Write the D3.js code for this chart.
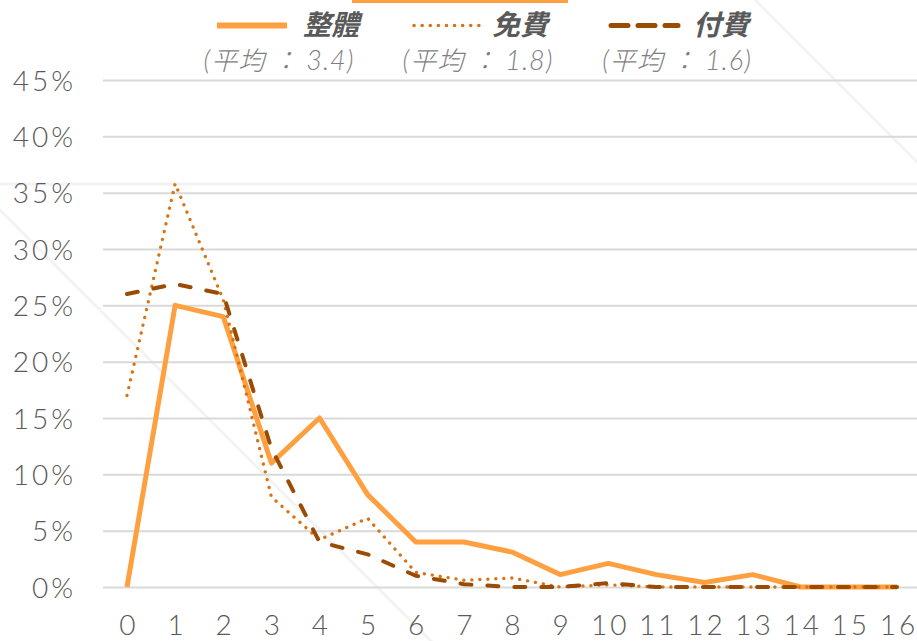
<!DOCTYPE html>
<meta charset="utf-8">
<style>
body { margin: 0; background: #fff; }
svg { display: block; font-family: Lato, "Noto Sans CJK TC", sans-serif; }
.grid line { stroke: #d9d9d9; stroke-width: 2px; }
.grid .domain { display: none; }
.axis text { fill: #595959; font-family: Lato, sans-serif; font-size: 28px; font-weight: 300; letter-spacing: 3px; }
.axis .domain { display: none; }
.line { fill: none; stroke-linejoin: round; }
.leg-name { fill: #595959; font-size: 28px; font-weight: bold; font-style: italic; font-family: "Noto Sans CJK TC", sans-serif; }
.leg-avg { fill: #7f7f7f; font-size: 27px; font-style: italic; font-weight: 300; letter-spacing: 1px; }
.leg-avg .cjk { font-family: "Noto Sans CJK TC", sans-serif; font-size: 26px; }
</style>
<body>
<script src="https://d3js.org/d3.v7.min.js"></script>
<script>

// categories on the x axis
var categories = ["0","1","2","3","4","5","6","7","8","9","10","11","12","13","14","15","16"];

// series values (%)
var overall = [0, 25, 24, 11, 15, 8.2, 4, 4, 3.1, 1.1, 2.1, 1.1, 0.4, 1.1, 0, 0, 0];
var free    = [17, 35.8, 25.5, 8, 4.2, 6.1, 1.3, 0.6, 0.8, 0, 0.2, 0, 0, 0, 0, 0, 0];
var paid    = [26, 26.9, 26, 12.3, 4, 2.9, 1, 0.25, 0, 0, 0.35, 0, 0, 0, 0, 0, 0];

// legend labels
var seriesNames = ["整體", "免費", "付費"];
var seriesAvgs = ["(平均：3.4)", "(平均：1.8)", "(平均：1.6)"];

// y ticks
var yTicks = [0, 5, 10, 15, 20, 25, 30, 35, 40, 45];

var width = 917, height = 641;

var svg = d3.select("body").append("svg")
    .attr("width", width)
    .attr("height", height);

// faint background marks
svg.append("rect")
    .attr("x", 352).attr("y", 0)
    .attr("width", 216).attr("height", 3)
    .attr("fill", "#ffa040");
var faint = svg.append("g").attr("stroke", "#f3f3f3").attr("stroke-width", 3).attr("fill", "none");
faint.append("line").attr("x1", 0).attr("y1", 184).attr("x2", width).attr("y2", 184);
faint.append("line").attr("x1", -10).attr("y1", 200).attr("x2", 440).attr("y2", 650);
faint.append("line").attr("x1", 755).attr("y1", 0).attr("x2", 925).attr("y2", 170);

// scales
var x = d3.scalePoint().domain(categories).range([127, 897]);
var y = d3.scaleLinear().domain([0, 45]).range([587, 80]);

// gridlines
svg.append("g")
    .attr("class", "grid")
    .attr("transform", "translate(103,0)")
    .call(d3.axisRight(y).tickValues(yTicks).tickSize(width - 103).tickFormat(""));

// y axis labels
svg.append("g")
    .attr("class", "axis")
    .attr("transform", "translate(76,0)")
    .call(d3.axisLeft(y).tickValues(yTicks).tickSize(0).tickPadding(0)
        .tickFormat(function(d) { return d + "%"; }))
  .selectAll("text")
    .attr("dy", "0.36em");

// x axis labels
svg.append("g")
    .attr("class", "axis")
    .attr("transform", "translate(0,587)")
    .call(d3.axisBottom(x).tickSize(0))
  .selectAll("text")
    .attr("y", 48)
    .attr("dy", 0)
    .attr("dx", "0.05em");

var line = d3.line()
    .x(function(d, i) { return x(categories[i]); })
    .y(function(d) { return y(d); });

svg.append("path")
    .datum(overall)
    .attr("class", "line")
    .attr("stroke", "#ffa040")
    .attr("stroke-width", 5)
    .attr("d", line);

svg.append("path")
    .datum(free)
    .attr("class", "line")
    .attr("stroke", "#d97210")
    .attr("stroke-width", 3.3)
    .attr("stroke-linecap", "round")
    .attr("stroke-dasharray", "0.1,7.9")
    .attr("d", line);

svg.append("path")
    .datum(paid)
    .attr("class", "line")
    .attr("stroke", "#9a4c05")
    .attr("stroke-width", 4)
    .attr("stroke-linecap", "round")
    .attr("stroke-dasharray", "11,16")
    .attr("d", line);

// legend
var legX = [217, 411, 608];
var legTextX = [303, 492, 693];
var legStyles = [
  {stroke: "#ffa040", w: 6, dash: null, cap: "butt"},
  {stroke: "#d97210", w: 3.5, dash: "0.1,8", cap: "round"},
  {stroke: "#9a4c05", w: 5, dash: "17,10", cap: "round"}
];
var leg = svg.append("g");
seriesNames.forEach(function(name, i) {
  var s = legStyles[i];
  leg.append("line")
      .attr("x1", legX[i] + (s.cap === "round" ? 3 : 0)).attr("x2", legX[i] + 70)
      .attr("y1", 25.5).attr("y2", 25.5)
      .attr("stroke", s.stroke)
      .attr("stroke-width", s.w)
      .attr("stroke-linecap", s.cap)
      .attr("stroke-dasharray", s.dash);
  leg.append("text")
      .attr("class", "leg-name")
      .attr("x", legTextX[i]).attr("y", 35)
      .text(name);
  var t = leg.append("text")
      .attr("class", "leg-avg")
      .attr("x", [279, 478, 677][i]).attr("y", 70)
      .attr("text-anchor", "middle");
  // split into runs; give the full-width colon some room on both sides
  seriesAvgs[i].match(/：|[\u3000-\u9fff]+|[^\u3000-\u9fff：]+/g).forEach(function(run, k, runs) {
    var isCjk = /[\u3000-\u9fff：]/.test(run);
    t.append("tspan")
        .attr("class", isCjk ? "cjk" : null)
        .attr("dx", run === "：" || (k > 0 && runs[k - 1] === "：") ? 7 : null)
        .text(run);
  });
});

</script>
</body>
